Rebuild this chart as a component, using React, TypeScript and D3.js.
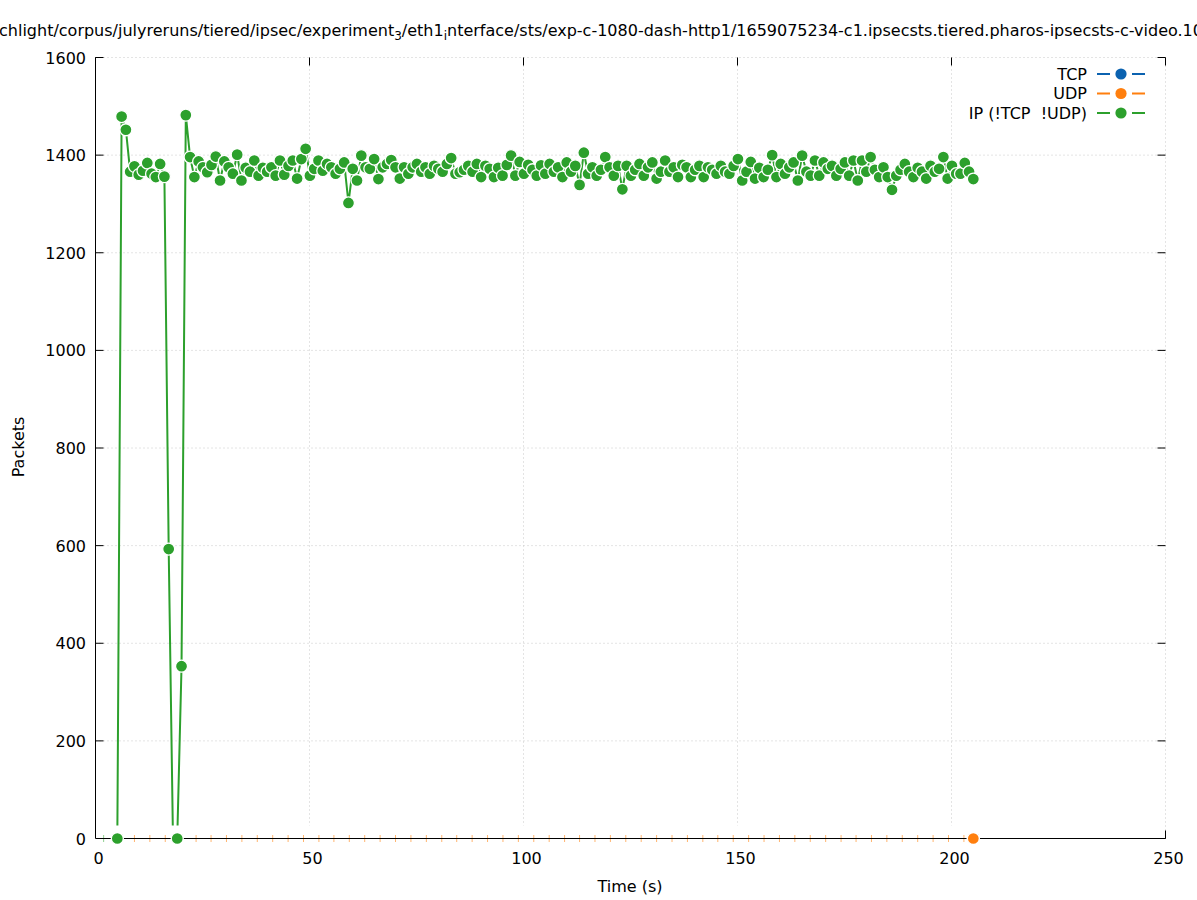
import * as React from 'react';
import * as d3 from 'd3';

const WIDTH = 1197;
const HEIGHT = 900;

const xTicks = [0, 50, 100, 150, 200, 250];
const yTicks = [0, 200, 400, 600, 800, 1000, 1200, 1400, 1600];

const seriesNames = ['TCP', 'UDP', 'IP (!TCP  !UDP)'];
const seriesColors = ['#0b62b0', '#ff7f0e', '#2ca02c'];

// IP (!TCP !UDP) packets per second, first sample at 5.1 s, one sample per second
const ipStart = 5.1;
const ipValues = [
  0, 1479, 1452, 1366, 1377, 1360, 1368, 1384, 1362, 1355,
  1382, 1356, 593, 0, 0, 353, 1482, 1396, 1355, 1387,
  1375, 1365, 1380, 1397, 1348, 1387, 1375, 1362, 1401, 1348,
  1374, 1366, 1389, 1358, 1374, 1366, 1375, 1358, 1389, 1360,
  1378, 1389, 1352, 1392, 1413, 1358, 1372, 1389, 1368, 1382,
  1375, 1362, 1372, 1385, 1302, 1372, 1348, 1399, 1375, 1372,
  1392, 1351, 1375, 1382, 1390, 1375, 1352, 1375, 1362, 1375,
  1382, 1366, 1375, 1362, 1378, 1372, 1366, 1382, 1394, 1362,
  1365, 1370, 1378, 1366, 1382, 1355, 1378, 1372, 1355, 1374,
  1358, 1380, 1399, 1358, 1386, 1362, 1380, 1370, 1358, 1379,
  1362, 1382, 1366, 1375, 1355, 1385, 1366, 1378, 1339, 1405,
  1362, 1375, 1358, 1370, 1396, 1375, 1358, 1378, 1330, 1378,
  1358, 1370, 1382, 1358, 1375, 1385, 1352, 1366, 1389, 1366,
  1375, 1355, 1380, 1375, 1355, 1370, 1378, 1355, 1375, 1370,
  1362, 1378, 1366, 1362, 1378, 1392, 1348, 1366, 1386, 1352,
  1374, 1355, 1370, 1400, 1355, 1382, 1362, 1375, 1385, 1348,
  1399, 1366, 1358, 1389, 1358, 1385, 1372, 1378, 1358, 1372,
  1385, 1358, 1389, 1348, 1389, 1366, 1396, 1370, 1355, 1375,
  1355, 1329, 1358, 1370, 1382, 1366, 1355, 1374, 1366, 1352,
  1378, 1366, 1372, 1396, 1352, 1378, 1362, 1362, 1384, 1366,
  1351,
];
// samples whose point is not visible in the original (lost under the zero band)
const ipUnmarked = [13];

// TCP / UDP: single visible sample at the end of the capture
const tcpPoints = [{ t: 205.1, v: 0 }];
const udpPoints = [{ t: 205.1, v: 0 }];

// faint orange remnants along the zero line
const udpRims = [
  1.9, 5.5, 9.1, 12.7, 16.3, 19.9, 23.5, 27.0, 30.6, 34.2, 37.8, 41.4, 45.0, 48.6,
  52.2, 55.7, 59.3, 62.9, 66.5, 70.1, 73.7, 77.3, 80.9, 84.4, 88.0, 91.6, 95.2, 98.8,
  102.4, 106.0, 109.6, 113.1, 116.7, 120.3, 123.9, 127.5, 131.1, 134.7, 138.3, 141.9,
  145.4, 149.0, 152.6, 156.2, 159.8, 163.4, 167.0, 170.6, 174.2, 177.7, 181.3, 184.9,
  188.5, 192.1, 195.7, 199.3, 202.9,
];

const titleParts = [
  'chlight/corpus/julyreruns/tiered/ipsec/experiment',
  '3',
  '/eth1',
  'i',
  'nterface/sts/exp-c-1080-dash-http1/1659075234-c1.ipsecsts.tiered.pharos-ipsecsts-c-video.100.pcap',
];

export default function App() {
  const svgRef = React.useRef<SVGSVGElement>(null);

  React.useEffect(() => {
    if (!svgRef.current) return;
    const svg = d3.select(svgRef.current);
    svg.selectAll('*').remove();

    const font = 'DejaVu Sans, sans-serif';
    const x = d3.scaleLinear().domain([0, 250]).range([95.5, 1165.5]);
    const y = d3.scaleLinear().domain([0, 1600]).range([838.5, 57.5]);

    const ipData = ipValues.map((v, i) => ({ t: ipStart + i, v }));

    svg.append('rect').attr('width', WIDTH).attr('height', HEIGHT).attr('fill', 'white');

    // title (wider than the canvas, clipped at both sides)
    const title = svg
      .append('text')
      .attr('x', -1)
      .attr('y', 36)
      .attr('font-family', font)
      .attr('font-size', 16)
      .attr('fill', '#000');
    titleParts.forEach((p, i) => {
      const sub = i % 2 === 1;
      title
        .append('tspan')
        .attr('font-size', sub ? 12 : 16)
        .attr('dy', i === 0 ? 0 : sub ? 4 : -4)
        .text(p);
    });

    // grid
    const grid = svg.append('g').attr('stroke', '#c8c8c8').attr('stroke-width', 1).attr('stroke-dasharray', '1,3');
    grid
      .selectAll('line.gx')
      .data(xTicks)
      .join('line')
      .attr('class', 'gx')
      .attr('x1', (d) => x(d))
      .attr('x2', (d) => x(d))
      .attr('y1', y(0))
      .attr('y2', y(1600));
    grid
      .selectAll('line.gy')
      .data(yTicks)
      .join('line')
      .attr('class', 'gy')
      .attr('x1', x(0))
      .attr('x2', x(250))
      .attr('y1', (d) => y(d))
      .attr('y2', (d) => y(d));

    // tick marks (inward, mirrored)
    const ticks = svg.append('g').attr('stroke', '#000').attr('stroke-width', 1);
    ticks
      .selectAll('line.ty')
      .data(yTicks)
      .join('line')
      .attr('class', 'ty')
      .attr('x1', x(0))
      .attr('x2', x(0) + 8)
      .attr('y1', (d) => y(d))
      .attr('y2', (d) => y(d));
    ticks
      .selectAll('line.ty2')
      .data(yTicks)
      .join('line')
      .attr('class', 'ty2')
      .attr('x1', x(250))
      .attr('x2', x(250) - 8)
      .attr('y1', (d) => y(d))
      .attr('y2', (d) => y(d));
    ticks
      .selectAll('line.tx')
      .data(xTicks)
      .join('line')
      .attr('class', 'tx')
      .attr('x1', (d) => x(d))
      .attr('x2', (d) => x(d))
      .attr('y1', y(0))
      .attr('y2', y(0) - 8);
    ticks
      .selectAll('line.tx2')
      .data(xTicks)
      .join('line')
      .attr('class', 'tx2')
      .attr('x1', (d) => x(d))
      .attr('x2', (d) => x(d))
      .attr('y1', y(1600))
      .attr('y2', y(1600) + 8);

    // IP line
    const line = d3
      .line<{ t: number; v: number }>()
      .x((d) => x(d.t))
      .y((d) => y(d.v));
    svg
      .append('path')
      .datum(ipData)
      .attr('d', line)
      .attr('fill', 'none')
      .attr('stroke', seriesColors[2])
      .attr('stroke-width', 2);

    // white band along the zero line (point boxes of the zero series)
    svg
      .append('rect')
      .attr('x', x(-1.5))
      .attr('y', y(0) - 13)
      .attr('width', x(206.5) - x(-1.5))
      .attr('height', 26)
      .attr('fill', 'white');

    svg
      .append('g')
      .selectAll('line')
      .data(udpRims)
      .join('line')
      .attr('x1', (d) => x(d))
      .attr('x2', (d) => x(d))
      .attr('y1', y(0) - 3.5)
      .attr('y2', y(0) + 3.5)
      .attr('stroke', (d, i) => (i === 0 ? '#8fd08f' : '#ffb570'))
      .attr('stroke-width', 1);

    // border (left + bottom)
    svg
      .append('path')
      .attr('d', `M${x(0)},${y(1600)}V${y(0)}H${x(250)}`)
      .attr('fill', 'none')
      .attr('stroke', '#000')
      .attr('stroke-width', 1);

    // tick labels
    svg
      .append('g')
      .selectAll('text')
      .data(yTicks)
      .join('text')
      .attr('x', 86)
      .attr('y', (d) => y(d) + 6)
      .attr('text-anchor', 'end')
      .attr('font-family', font)
      .attr('font-size', 16)
      .text((d) => d);
    svg
      .append('g')
      .selectAll('text')
      .data(xTicks)
      .join('text')
      .attr('x', (d) => x(d) + 3)
      .attr('y', 864)
      .attr('text-anchor', 'middle')
      .attr('font-family', font)
      .attr('font-size', 16)
      .text((d) => d);

    svg
      .append('text')
      .attr('x', 630)
      .attr('y', 892)
      .attr('text-anchor', 'middle')
      .attr('font-family', font)
      .attr('font-size', 16)
      .text('Time (s)');
    svg
      .append('text')
      .attr('transform', 'translate(24,447) rotate(-90)')
      .attr('text-anchor', 'middle')
      .attr('font-family', font)
      .attr('font-size', 16)
      .text('Packets');

    // markers
    const drawPoints = (pts: { t: number; v: number }[], color: string) => {
      svg
        .append('g')
        .selectAll('circle')
        .data(pts)
        .join('circle')
        .attr('cx', (d) => x(d.t))
        .attr('cy', (d) => y(d.v))
        .attr('r', 6)
        .attr('fill', color)
        .attr('stroke', 'white')
        .attr('stroke-width', 1.3);
    };
    drawPoints(tcpPoints, seriesColors[0]);
    drawPoints(udpPoints, seriesColors[1]);
    drawPoints(
      ipData.filter((_, i) => !ipUnmarked.includes(i)),
      seriesColors[2]
    );

    // legend
    const legend = svg.append('g');
    seriesNames.forEach((name, i) => {
      const cy = 74 + i * 19.5;
      legend
        .append('text')
        .attr('x', 1087)
        .attr('y', cy + 5.5)
        .attr('text-anchor', 'end')
        .attr('font-family', font)
        .attr('font-size', 16)
        .style('white-space', 'pre')
        .text(name);
      legend
        .append('path')
        .attr('d', `M1097,${cy}H1110M1132,${cy}H1145`)
        .attr('stroke', seriesColors[i])
        .attr('stroke-width', 2);
      legend
        .append('circle')
        .attr('cx', 1121)
        .attr('cy', cy)
        .attr('r', 5.6)
        .attr('fill', seriesColors[i]);
    });
  }, []);

  return (
    <svg
      ref={svgRef}
      width={WIDTH}
      height={HEIGHT}
      style={{ position: 'absolute', left: 0, top: 0, display: 'block' }}
    />
  );
}
